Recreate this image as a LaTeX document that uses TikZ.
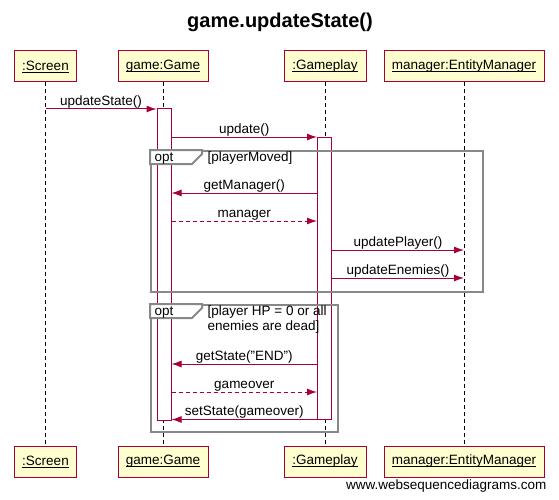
\documentclass[tikz,border=0pt]{standalone}
\usepackage{xcolor}
\usepackage{fontspec}
\setmainfont{Liberation Sans}
\usepackage{tikz}
\usetikzlibrary{calc}
\usetikzlibrary{arrows.meta}
\usetikzlibrary{positioning}

\definecolor{seqred}{HTML}{A80036}
\definecolor{seqfill}{HTML}{FEFECE}
\definecolor{seqgrey}{HTML}{888888}
\newcommand{\undl}[1]{\setbox0\hbox{#1}\rlap{\rule[-2pt]{\wd0}{0.7pt}}\box0}

\tikzset{
 actor/.style={rectangle, draw=seqred, fill=seqfill, line width=1pt, minimum height=31pt, inner xsep=4pt, font=\fontsize{13.5}{15}\selectfont},
 life/.style={draw=black, line width=0.8pt, dash pattern=on 4pt off 3pt},
 activ/.style={rectangle, draw=seqred, fill=white, line width=1pt, minimum width=14pt, inner sep=0pt},
 msg/.style={-{Latex[length=10pt, width=7pt]}, draw=seqred, line width=1pt},
 reply/.style={msg, dash pattern=on 4pt off 3pt},
 lbl/.style={font=\fontsize{13.5}{15}\selectfont, text=black, inner sep=0.5pt},
 frame/.style={draw=seqgrey, line width=2pt},
}

\begin{document}
\begin{tikzpicture}[x=1pt, y=-1pt]
 \useasboundingbox (0, 0) rectangle (559, 500);
 \node [font=\fontsize{20}{24}\selectfont\bfseries] (title) at (280, 22) {game.updateState()};

 \node [actor, minimum width=62pt] (scrTop) at (45.5, 66.5) {\undl{:Screen}};
 \node [actor, minimum width=90pt] (gameTop) at (163, 66.5) {\undl{game:Game}};
 \node [actor, minimum width=82pt] (gpTop) at (325, 66.5) {\undl{:Gameplay}};
 \node [actor, minimum width=160pt] (mgrTop) at (464, 66.5) {\undl{manager:EntityManager}};
 \node [actor, minimum width=62pt] (scrBot) at (45.5, 461.5) {\undl{:Screen}};
 \node [actor, minimum width=90pt] (gameBot) at (163, 461.5) {\undl{game:Game}};
 \node [actor, minimum width=82pt] (gpBot) at (325, 461.5) {\undl{:Gameplay}};
 \node [actor, minimum width=160pt] (mgrBot) at (464, 461.5) {\undl{manager:EntityManager}};

 \draw [life] (scrTop) to (scrBot);
 \draw [life] (gameTop) to (gameBot);
 \draw [life] (gpTop) to (gpBot);
 \draw [life] (mgrTop) to (mgrBot);

 \node [activ, minimum height=311pt] (gameAct) at (164, 264.5) {};
 \node [activ, minimum height=282pt] (gpAct) at (324.5, 278) {};

 \node [frame, rectangle, minimum width=332pt, minimum height=141pt] (opt1) at (317, 221.5) {};
 \draw [frame, fill=white] (opt1.north west) -- ++(52, 0) -- ++(0, 4) -- ++(-10, 10) -- ++(-42, 0) -- cycle;
 \node [lbl, anchor=base west] (opt1tag) at ($(opt1.north west)+(4, 11.5)$) {opt};
 \node [lbl, anchor=base west] (opt1cond) at ($(opt1.north west)+(57, 11.5)$) {[playerMoved]};

 \node [frame, rectangle, minimum width=187pt, minimum height=127pt] (opt2) at (244.5, 368.5) {};
 \draw [frame, fill=white] (opt2.north west) -- ++(52, 0) -- ++(0, 4) -- ++(-10, 10) -- ++(-42, 0) -- cycle;
 \node [lbl, anchor=base west] (opt2tag) at ($(opt2.north west)+(4, 11.5)$) {opt};
 \node [lbl, anchor=north west, align=left, font=\fontsize{13.5}{15}\selectfont] (opt2cond) at ($(opt2.north west)+(57, 1)$) {[player HP = 0 or all\\enemies are dead]};

 \coordinate (m1) at (0, 109);
 \coordinate (m2) at (0, 137);
 \coordinate (m3) at (0, 193);
 \coordinate (m4) at (0, 221);
 \coordinate (m5) at (0, 250);
 \coordinate (m6) at (0, 278);
 \coordinate (m7) at (0, 364);
 \coordinate (m8) at (0, 392);
 \coordinate (m9) at (0, 419.5);

 \draw [msg] (scrTop.south |- m1) to node [lbl, above] {updateState()} (gameAct.west |- m1);
 \draw [msg] (gameAct.east |- m2) to node [lbl, above] {update()} (gpAct.west |- m2);
 \draw [msg] (gpAct.west |- m3) to node [lbl, above] {getManager()} (gameAct.east |- m3);
 \draw [reply] (gameAct.east |- m4) to node [lbl, above] {manager} (gpAct.west |- m4);
 \draw [msg] (gpAct.east |- m5) to node [lbl, above] {updatePlayer()} (mgrTop.south |- m5);
 \draw [msg] (gpAct.east |- m6) to node [lbl, above] {updateEnemies()} (mgrTop.south |- m6);
 \draw [msg] (gpAct.west |- m7) to node [lbl, above] {getState("END")} (gameAct.east |- m7);
 \draw [reply] (gameAct.east |- m8) to node [lbl, above] {gameover} (gpAct.west |- m8);
 \draw [msg] (gpAct.west |- m9) to node [lbl, above] {setState(gameover)} (gameAct.east |- m9);

 \node [anchor=east, font=\fontsize{13.5}{16}\selectfont] (credit) at (550, 486) {www.websequencediagrams.com};
\end{tikzpicture}
\end{document}
